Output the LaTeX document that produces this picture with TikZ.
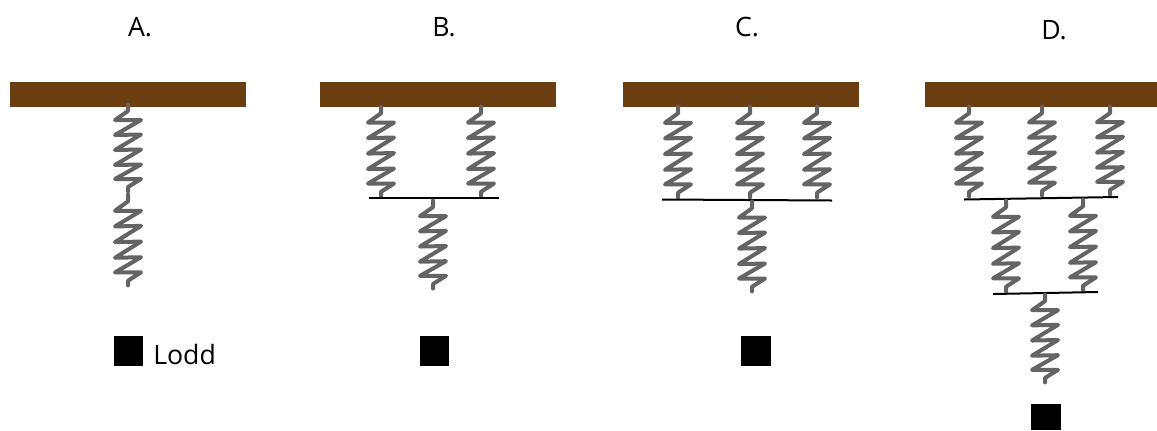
\documentclass[tikz,border=0pt]{standalone}
\usepackage{fontspec}
\setmainfont{Open Sans}
\definecolor{beam}{RGB}{107,62,17}
\definecolor{coil}{RGB}{100,100,100}
\tikzset{
  x=0.75pt,y=-0.75pt,
  beam/.style={fill=beam,draw=none},
  coil/.style={draw=coil,line width=3pt,line join=round,line cap=round},
  rod/.style={draw=black,line width=1.5pt},
  load/.style={fill=black,draw=none},
  lbl/.style={font=\fontsize{20}{24}\selectfont,inner sep=0pt}
}
% #1 x, #2 top y, #3 bottom y
\newcommand{\myspring}[3]{%
  \pgfmathsetmacro{\ys}{((#3)-(#2))/90}%
  \begin{scope}[shift={(#1,#2)},yscale=\ys]
    \draw[coil] (0,1.5)--(0,8)--(-13,17)--(13,17)--(-13,32)--(13,31.5)--(-13,47)--(13,46.5)--(-13,62)--(13,61.5)--(-13,76)--(13,76)--(0,84)--(0,88.5);
  \end{scope}}
\begin{document}
\begin{tikzpicture}
\useasboundingbox (0,0) rectangle (1157,430);
\clip (0,0) rectangle (1157,430);
% beams
\fill[beam] (10,82) rectangle (246,107);
\fill[beam] (320,82) rectangle (556,107);
\fill[beam] (623,82) rectangle (859,107);
\fill[beam] (925,82) rectangle (1161,107);
% A
\myspring{128}{103}{193}
\myspring{128}{193}{287}
% B
\myspring{381}{105}{198}
\myspring{481}{105}{198}
\draw[rod] (369,198)--(499,198);
\myspring{433}{199}{290}
% C
\myspring{678}{105}{199}
\myspring{750}{105}{199}
\myspring{817}{105}{199}
\draw[rod] (662,199.5)--(832,200.5);
\myspring{752}{200}{293}
% D
\myspring{969}{105}{198}
\myspring{1042}{105}{197}
\myspring{1110}{105}{196}
\draw[rod] (964,199.5)--(1118,197);
\myspring{1006}{199}{293}
\myspring{1083}{198}{292}
\draw[rod] (993,294)--(1098,292);
\myspring{1045}{293}{384}
% loads
\fill[load] (114,336) rectangle (143,366);
\fill[load] (420,336) rectangle (449,366);
\fill[load] (741,336) rectangle (771,366);
\fill[load] (1031,404) rectangle (1061,430);
% labels
\node[lbl] (la) at (140,27) {A.};
\node[lbl] (lb) at (444,27) {B.};
\node[lbl] (lc) at (747,27) {C.};
\node[lbl] (ld) at (1054,30) {D.};
\node[lbl,anchor=west] (ll) at (153,354.5) {Lodd};
\end{tikzpicture}
\end{document}
